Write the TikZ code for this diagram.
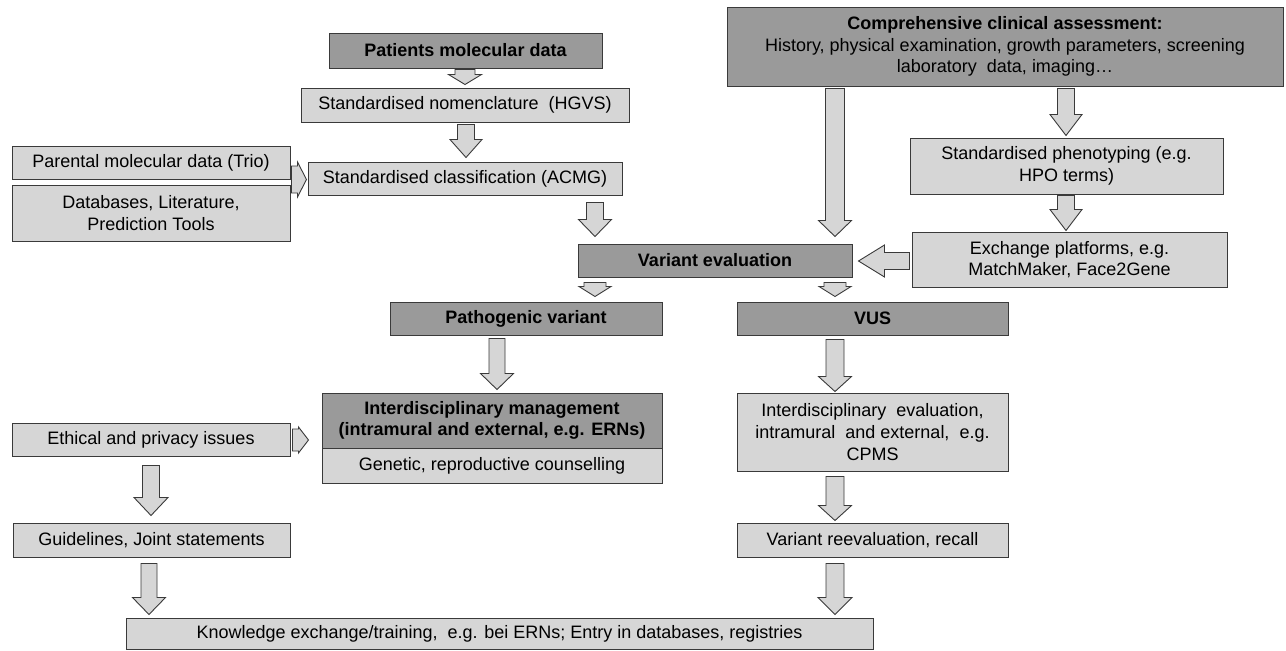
\documentclass[tikz,border=0pt]{standalone}
\usepackage{fontspec}
\setmainfont{Liberation Sans}
\usetikzlibrary{calc}
\definecolor{darkbox}{HTML}{9A9A9A}
\definecolor{lightbox}{HTML}{D6D6D6}
\definecolor{edge}{HTML}{3A3A3A}
\tikzset{
  basebox/.style={draw=edge, line width=1pt, inner sep=2pt, align=center,
    font=\fontsize{18}{21.6}\selectfont},
  lbox/.style={basebox, fill=lightbox},
  dbox/.style={basebox, fill=darkbox, font=\fontsize{18}{21.6}\selectfont\bfseries},
  barrow/.style={draw=edge, fill=lightbox, line width=0.9pt, line join=miter},
}
% down arrow: x, from, to, shaft half width, head half width, head length, gap1, gap2
\newcommand\darr[8]{%
  \draw[barrow] let \p1=(#2), \p2=(#3) in
  (#1pt-#4pt,\y1-#7pt) -- (#1pt+#4pt,\y1-#7pt) -- (#1pt+#4pt,\y2+#8pt+#6pt)
  -- (#1pt+#5pt,\y2+#8pt+#6pt) -- (#1pt,\y2+#8pt) -- (#1pt-#5pt,\y2+#8pt+#6pt)
  -- (#1pt-#4pt,\y2+#8pt+#6pt) -- cycle;}
% right arrow: y, from, to, shaft half height, head half height, head length, gap1, gap2
\newcommand\rarr[8]{%
  \draw[barrow] let \p1=(#2), \p2=(#3) in
  (\x1+#7pt,-#1pt+#4pt) -- (\x2-#8pt-#6pt,-#1pt+#4pt) -- (\x2-#8pt-#6pt,-#1pt+#5pt)
  -- (\x2-#8pt,-#1pt) -- (\x2-#8pt-#6pt,-#1pt-#5pt) -- (\x2-#8pt-#6pt,-#1pt-#4pt)
  -- (\x1+#7pt,-#1pt-#4pt) -- cycle;}
% left arrow
\newcommand\larr[8]{%
  \draw[barrow] let \p1=(#2), \p2=(#3) in
  (\x1-#7pt,-#1pt+#4pt) -- (\x2+#8pt+#6pt,-#1pt+#4pt) -- (\x2+#8pt+#6pt,-#1pt+#5pt)
  -- (\x2+#8pt,-#1pt) -- (\x2+#8pt+#6pt,-#1pt-#5pt) -- (\x2+#8pt+#6pt,-#1pt-#4pt)
  -- (\x1-#7pt,-#1pt-#4pt) -- cycle;}
\begin{document}
\begin{tikzpicture}[x=1pt,y=-1pt]
\useasboundingbox[fill=white] (0,0) rectangle (1286,651);

\node[dbox, minimum width=273pt, minimum height=35pt] (pat) at (465.5,50.5) {Patients molecular data};
\node[lbox, minimum width=328pt, minimum height=34pt] (nom) at (465,105) {Standardised nomenclature\ \ (HGVS)};
\node[lbox, minimum width=278pt, minimum height=33pt] (par) at (151,162.5) {Parental molecular data (Trio)};
\node[lbox, minimum width=278pt, minimum height=56pt] (db) at (151,213) {Databases, Literature,\\Prediction Tools};
\node[lbox, minimum width=314pt, minimum height=33pt] (cls) at (465,178.5) {Standardised classification (ACMG)};
\node[basebox, fill=darkbox, minimum width=556pt, minimum height=79pt] (comp) at (1005,46.5)
  {\textbf{Comprehensive clinical assessment:}\\History, physical examination, growth parameters, screening\\laboratory\ \ data, imaging\dots};
\node[lbox, minimum width=313pt, minimum height=56pt] (phen) at (1066.5,166) {Standardised phenotyping (e.g.\\HPO terms)};
\node[lbox, minimum width=315pt, minimum height=55pt] (exch) at (1069.5,259.5) {Exchange platforms, e.g.\\MatchMaker, Face2Gene};
\node[dbox, minimum width=274pt, minimum height=33pt] (ve) at (715,260.5) {Variant evaluation};
\node[dbox, minimum width=272pt, minimum height=33pt] (path) at (526,318.5) {Pathogenic variant};
\node[dbox, minimum width=271pt, minimum height=33pt] (vus) at (872.5,318.5) {VUS};
\node[dbox, minimum width=340pt, minimum height=55pt] (mgmt) at (492,420.5) {Interdisciplinary management\\(intramural and external, e.g. ERNs)};
\node[lbox, minimum width=340pt, minimum height=35pt] (gen) at (492,465.5) {Genetic, reproductive counselling};
\node[lbox, minimum width=278pt, minimum height=33pt] (eth) at (151,439.5) {Ethical and privacy issues};
\node[lbox, minimum width=271pt, minimum height=78pt] (ieval) at (872.5,432) {Interdisciplinary\ \ evaluation,\\intramural\ \ and external,\ \ e.g.\\CPMS};
\node[lbox, minimum width=277pt, minimum height=34pt] (guide) at (151.5,540) {Guidelines, Joint statements};
\node[lbox, minimum width=271pt, minimum height=34pt] (reev) at (872.5,540) {Variant reevaluation, recall};
\node[lbox, minimum width=747pt, minimum height=31pt] (know) at (499.5,633.5) {Knowledge exchange/training,\ \ e.g. bei ERNs; Entry in databases, registries};

% arrows
\darr{465}{pat.south}{nom.north}{10}{16.5}{10}{1}{3}
\darr{466}{nom.south}{cls.north}{8.5}{16}{18}{2}{4}
\rarr{179.5}{par.east}{cls.west}{13.5}{17.5}{9}{1}{1}
\darr{595}{cls.south}{ve.north}{8.5}{16.5}{17}{7}{7}
\darr{835}{comp.south}{ve.north}{9.5}{16.5}{16}{2}{7}
\darr{1066}{comp.south}{phen.north}{8.5}{16}{21}{2}{2}
\darr{1066}{phen.south}{exch.north}{8.5}{16}{21}{1}{1}
\larr{261}{exch.west}{ve.east}{8.5}{16}{26}{2}{6}
\darr{595}{ve.south}{path.north}{11}{16}{10}{5}{5}
\darr{835}{ve.south}{vus.north}{11}{16}{10}{5}{5}
\darr{497}{path.south}{mgmt.north}{8}{16.5}{16}{3}{3}
\darr{835}{vus.south}{ieval.north}{9}{16.5}{15}{4}{1}
\rarr{440}{eth.east}{mgmt.west}{11}{13}{10}{2}{13}
\darr{151}{eth.south}{guide.north}{8.5}{17}{18}{9}{7}
\darr{149}{guide.south}{know.north}{8}{16.5}{17}{6}{3}
\darr{835}{ieval.south}{reev.north}{9}{16.5}{15}{5}{2}
\darr{835}{reev.south}{know.north}{9}{17}{17}{6}{3}
\end{tikzpicture}
\end{document}
